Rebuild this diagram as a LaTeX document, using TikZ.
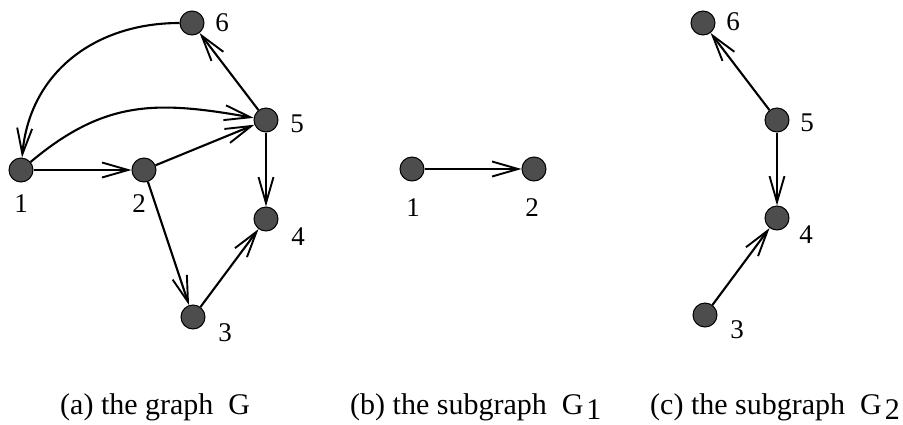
\documentclass[tikz,border=0pt]{standalone}
\usepackage{fontspec}
\setmainfont{Liberation Serif}
\usetikzlibrary{arrows.meta}
\definecolor{vfill}{HTML}{4D4D4D}
\tikzset{
  vtx/.style={circle, draw=black, line width=1pt, fill=vfill, minimum size=24pt, inner sep=0pt},
  lbl/.style={inner sep=0pt, font=\fontsize{27}{27}\selectfont},
  captxt/.style={inner sep=0pt, anchor=base west, font=\fontsize{30}{30}\selectfont},
  conn/.style={line width=2.1pt, -{Straight Barb[length=26pt,width=15pt,line width=1.9pt]}}
}
\begin{document}
\begin{tikzpicture}[x=1pt,y=-1pt]
\path[use as bounding box] (0,0) rectangle (903,424);
% (a) graph G
\node[vtx] (a6) at (192,23) {};
\node[vtx] (a5) at (266,120) {};
\node[vtx] (a1) at (21,170) {};
\node[vtx] (a2) at (144,170) {};
\node[vtx] (a4) at (266,219) {};
\node[vtx] (a3) at (193,317) {};
\node[lbl] (la6) at (222,23) {6};
\node[lbl] (la5) at (297,124) {5};
\node[lbl] (la1) at (21,204) {1};
\node[lbl] (la2) at (139,204) {2};
\node[lbl] (la4) at (298,237) {4};
\node[lbl] (la3) at (225,333) {3};
\draw[conn] (a6) to[out=180,in=85,looseness=1.05] (a1);
\draw[conn] (a1) to[out=40,in=170,looseness=1.1] (a5);
\draw[conn] (a1) -- (a2);
\draw[conn] (a2) -- (a5);
\draw[conn] (a5) -- (a6);
\draw[conn] (a5) -- (a4);
\draw[conn] (a2) -- (a3);
\draw[conn] (a3) -- (a4);
% (b) subgraph G1
\node[vtx] (b1) at (412,169) {};
\node[vtx] (b2) at (534,169) {};
\node[lbl] (lb1) at (413,208) {1};
\node[lbl] (lb2) at (532,208) {2};
\draw[conn] (b1) -- (b2);
% (c) subgraph G2
\node[vtx] (c6) at (703,23) {};
\node[vtx] (c5) at (777,120) {};
\node[vtx] (c4) at (777,218) {};
\node[vtx] (c3) at (705,315) {};
\node[lbl] (lc6) at (733,22) {6};
\node[lbl] (lc5) at (807,123) {5};
\node[lbl] (lc4) at (806,235) {4};
\node[lbl] (lc3) at (737,330) {3};
\draw[conn] (c5) -- (c6);
\draw[conn] (c5) -- (c4);
\draw[conn] (c3) -- (c4);
% captions
\node[captxt] (capa) at (60,414) {(a) the graph~~G};
\node[captxt] (capb) at (350,414) {(b) the subgraph~~G\hspace{3pt}\raisebox{-5pt}{1}};
\node[captxt] (capc) at (650,414) {(c) the subgraph~~G\hspace{3pt}\raisebox{-5pt}{2}};
\end{tikzpicture}
\end{document}
